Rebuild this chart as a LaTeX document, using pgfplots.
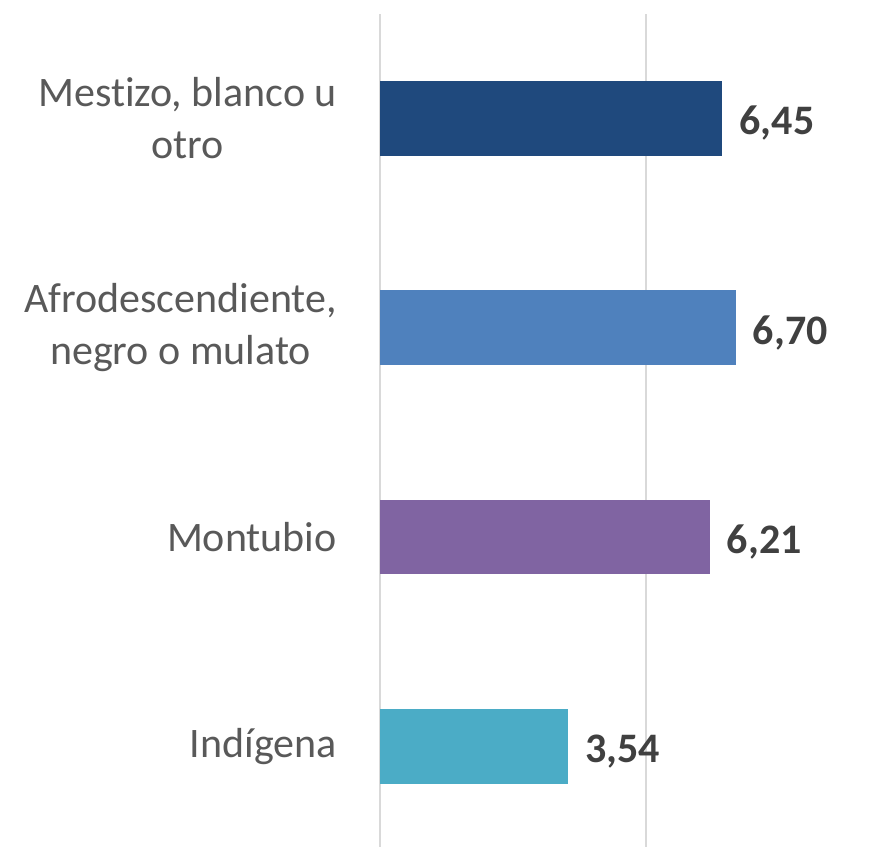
\documentclass[border=0pt]{standalone}
\usepackage{fontspec}
\setmainfont[Ligatures=CommonOff]{Carlito}
\usepackage{pgfplots}
\pgfplotsset{compat=1.18}
\definecolor{c1}{RGB}{31,73,125}
\definecolor{c2}{RGB}{79,129,189}
\definecolor{c3}{RGB}{128,100,162}
\definecolor{c4}{RGB}{75,172,198}
\definecolor{gridc}{RGB}{217,217,217}
\definecolor{labc}{RGB}{89,89,89}
\definecolor{valc}{RGB}{64,64,64}
\begin{document}
\begin{tikzpicture}
\begin{axis}[
  at={(380pt,-13.7pt)}, anchor=north west,
  scale only axis, width=508pt, height=837.3pt,
  xmin=0, xmax=9.567, ymin=-0.5, ymax=3.5,
  xbar, bar width=0.357, bar shift=0pt,
  axis line style={draw=none},
  xtick={0,5}, xticklabels={},
  xmajorgrids, grid style={gridc, line width=2pt},
  major tick length=0pt,
  ytick={0,1,2,3},
  yticklabels={Indígena, Montubio, {Afrodescendiente,\\negro o mulato}, {Mestizo, blanco u\\otro}},
  yticklabel style={align=center, inner sep=0pt, xshift=-43pt, text=labc, font=\fontsize{42}{52}\selectfont},
  point meta=explicit symbolic,
  nodes near coords,
  nodes near coords style={anchor=west, inner sep=0pt, xshift=17pt, yshift=-5pt, text=valc, font=\fontsize{42}{50}\selectfont\bfseries},
]
\addplot[draw=none, fill=c4] coordinates {(3.54,0) [3,54]};
\addplot[draw=none, fill=c3] coordinates {(6.21,1) [6,21]};
\addplot[draw=none, fill=c2] coordinates {(6.70,2) [6,70]};
\addplot[draw=none, fill=c1] coordinates {(6.45,3) [6,45]};
\end{axis}
\pgfresetboundingbox
\useasboundingbox (0,0) rectangle (888pt,-846pt);
\end{tikzpicture}
\end{document}
